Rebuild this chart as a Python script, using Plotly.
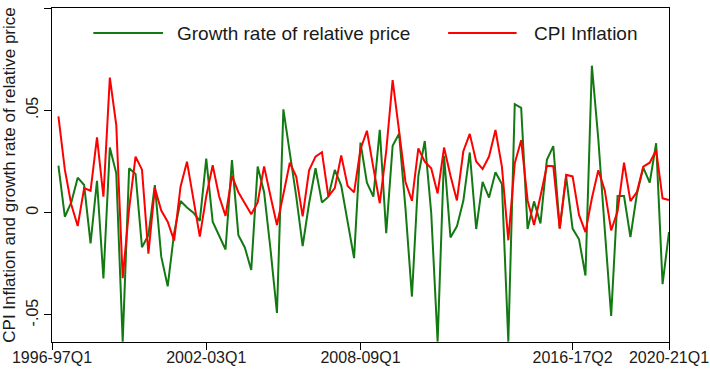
import plotly.graph_objects as go

# Quarter index: 0 = 1996-97Q1 ... 96 = 2020-21Q1; data run from 1996-97Q2 (index 1)
quarter_index = list(range(1, 97))

tick_vals = [0, 24, 48, 81, 96]
tick_text = ["1996-97Q1", "2002-03Q1", "2008-09Q1", "2016-17Q2", "2020-21Q1"]

growth_relative_price = [
    0.023, -0.002, 0.005, 0.0171, 0.0135, -0.015, 0.0156, -0.0321, 0.0318, 0.0192,
    -0.063, 0.0217, 0.0189, -0.0169, -0.011, 0.0135, -0.0215, -0.036, -0.010, 0.0057,
    0.0025, 0.0, -0.004, 0.0264, -0.0044, -0.0115, -0.018, 0.0257, -0.011, -0.017,
    -0.028, 0.0225, 0.010, -0.018, -0.049, 0.0505, 0.030, 0.008, -0.0163, 0.0046,
    0.0217, 0.005, 0.0078, 0.0209, 0.0132, -0.004, -0.0222, 0.0342, 0.0146, 0.0078,
    0.0405, -0.010, 0.0327, 0.0386, 0.002, -0.041, 0.018, 0.035, 0.0, -0.063,
    0.0278, -0.0121, -0.0067, 0.0058, 0.0294, -0.008, 0.015, 0.0074, 0.0197, 0.014,
    -0.063, 0.053, 0.0512, -0.008, 0.0055, -0.0053, 0.0258, 0.0325, -0.0077, 0.0176,
    -0.0078, -0.013, -0.0307, 0.0718, 0.036, -0.008, -0.0505, 0.0081, 0.0081, -0.012,
    0.009, 0.022, 0.0147, 0.0339, -0.0349, -0.0095,
]

cpi_inflation = [
    0.047, 0.021, 0.004, -0.0065, 0.012, 0.0107, 0.0368, 0.0078, 0.066, 0.0428,
    -0.032, 0.002, 0.0274, 0.021, -0.020, 0.012, 0.001, -0.0044, -0.0137, 0.0127,
    0.0249, 0.006, -0.0117, 0.008, 0.0232, 0.008, -0.0016, 0.018, 0.010, 0.0046,
    -0.0008, 0.005, 0.0226, 0.008, -0.006, 0.009, 0.0244, 0.0176, -0.0018, 0.0207,
    0.0274, 0.0295, 0.008, 0.012, 0.028, 0.013, 0.0099, 0.031, 0.040, 0.022,
    0.0046, 0.030, 0.0648, 0.040, 0.015, 0.0058, 0.0314, 0.0249, 0.0217, 0.0094,
    0.0318, 0.018, 0.006, 0.030, 0.0385, 0.025, 0.0213, 0.0274, 0.0404, 0.0225,
    -0.0135, 0.0241, 0.0354, 0.006, -0.006, 0.008, 0.0229, 0.0227, -0.0078, 0.0185,
    0.0177, -0.0011, -0.0095, 0.007, 0.0207, 0.011, -0.0087, 0.0007, 0.0244, 0.0056,
    0.010, 0.0225, 0.0244, 0.0305, 0.007, 0.0062,
]

y_tick_vals = [-0.05, 0, 0.05, 0.1]
y_tick_text = ["-.05", "0", ".05", ".1"]

GREEN = "#137a13"
RED = "#ff0000"
FONT = "Liberation Sans, Arial, sans-serif"
TEXT = "#1a1a1a"

fig = go.Figure()
fig.add_trace(go.Scatter(x=quarter_index, y=growth_relative_price, mode="lines",
                         name="Growth rate of relative price",
                         line=dict(color=GREEN, width=2), showlegend=False))
fig.add_trace(go.Scatter(x=quarter_index, y=cpi_inflation, mode="lines",
                         name="CPI Inflation",
                         line=dict(color=RED, width=2), showlegend=False))

# legend drawn as line samples + labels (inside plot, top)
legend_items = [("Growth rate of relative price", GREEN, 0.067, 0.180, 0.200),
                ("CPI Inflation", RED, 0.642, 0.753, 0.778)]
for label, color, x0, x1, xt in legend_items:
    fig.add_shape(type="line", xref="paper", yref="paper", x0=x0, x1=x1, y0=0.925, y1=0.925,
                  line=dict(color=color, width=2))
    fig.add_annotation(xref="paper", yref="paper", x=xt, y=0.925, text=label, showarrow=False,
                       xanchor="left", yanchor="middle", font=dict(size=19, color=TEXT, family=FONT))

fig.update_layout(
    width=710, height=369,
    margin=dict(l=52, r=41, t=8, b=27),
    paper_bgcolor="white", plot_bgcolor="white",
    font=dict(family=FONT, size=16, color=TEXT),
    xaxis=dict(range=[0, 96], tickvals=tick_vals, ticktext=tick_text, automargin=False,
               showgrid=False, zeroline=False, showline=True, mirror=True,
               linecolor="black", linewidth=1, ticks="outside", ticklen=7,
               ticklabelstandoff=-6,
               tickcolor="black", tickfont=dict(size=16, color=TEXT)),
    yaxis=dict(range=[-0.0632, 0.1], tickvals=y_tick_vals, ticktext=y_tick_text, automargin=False,
               tickangle=-90, showgrid=False, zeroline=False, showline=True, mirror=True,
               linecolor="black", linewidth=1, ticks="outside", ticklen=7,
               tickcolor="black", tickfont=dict(size=16, color=TEXT),
               title=dict(text="CPI Inflation and growth rate of relative price",
                          font=dict(size=17, color=TEXT), standoff=6)),
)

fig.write_html("out.html", config={"displayModeBar": False},
               post_script="document.body.style.margin='0';")
